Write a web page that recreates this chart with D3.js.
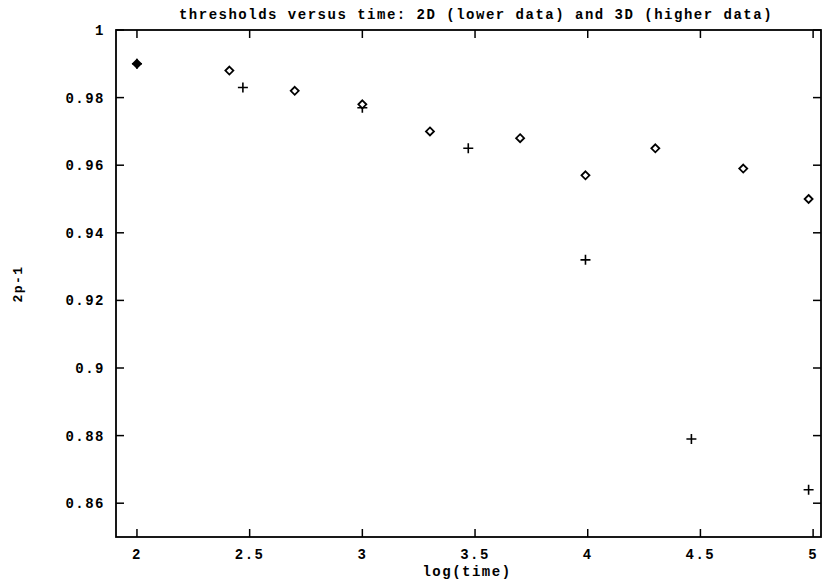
<!DOCTYPE html>
<html>
<head>
<meta charset="utf-8">
<script src="https://cdn.jsdelivr.net/npm/d3@7"></script>
<style>
  body { margin: 0; background: #fff; }
  svg { display: block; }
  .frame { fill: none; stroke: #000; stroke-width: 1.8; }
  .tick-line { stroke: #000; stroke-width: 1.5; }
  text { font-family: "Liberation Mono", "DejaVu Sans Mono", monospace; fill: #000; }
  .mono { font-size: 14px; letter-spacing: 1.5px; font-weight: bold; }
</style>
</head>
<body>
<svg id="chart" width="834" height="584"></svg>
<script>
// 3D data (diamonds, higher) and 2D data (pluses, lower)
var diamondX = [2.0, 2.41, 2.70, 3.0, 3.30, 3.70, 3.99, 4.30, 4.69, 4.98];
var diamondY = [0.990, 0.988, 0.982, 0.978, 0.970, 0.968, 0.957, 0.965, 0.959, 0.950];
var plusX = [2.0, 2.47, 3.0, 3.47, 3.99, 4.46, 4.98];
var plusY = [0.990, 0.983, 0.977, 0.965, 0.932, 0.879, 0.864];

var xTicks = [2, 2.5, 3, 3.5, 4, 4.5, 5];
var yTicks = [0.86, 0.88, 0.9, 0.92, 0.94, 0.96, 0.98, 1];

function drawChart() {
  var svg = d3.select("#chart");
  // plot frame edges (window.top is reserved, so keep these local)
  var plotLeft = 116, plotRight = 821, plotTop = 30, plotBottom = 537;

  var x = d3.scaleLinear().domain([1.907, 5.035]).range([plotLeft, plotRight]);
  var y = d3.scaleLinear().domain([0.85, 1]).range([plotBottom, plotTop]);

  // Title
  svg.append("text").attr("class", "mono")
    .attr("x", 476).attr("y", 19)
    .attr("text-anchor", "middle")
    .text("thresholds versus time: 2D (lower data) and 3D (higher data)");

  // Tick marks pointing inward on all four sides
  var tickLen = 8;
  xTicks.forEach(function(t) {
    svg.append("line").attr("class", "tick-line")
      .attr("x1", x(t)).attr("x2", x(t))
      .attr("y1", plotBottom).attr("y2", plotBottom - tickLen);
    svg.append("line").attr("class", "tick-line")
      .attr("x1", x(t)).attr("x2", x(t))
      .attr("y1", plotTop).attr("y2", plotTop + tickLen);
    svg.append("text").attr("class", "mono")
      .attr("x", x(t)).attr("y", plotBottom + 22)
      .attr("text-anchor", "middle")
      .text(t);
  });

  yTicks.forEach(function(t) {
    svg.append("line").attr("class", "tick-line")
      .attr("x1", plotLeft).attr("x2", plotLeft + tickLen)
      .attr("y1", y(t)).attr("y2", y(t));
    svg.append("line").attr("class", "tick-line")
      .attr("x1", plotRight).attr("x2", plotRight - tickLen)
      .attr("y1", y(t)).attr("y2", y(t));
    svg.append("text").attr("class", "mono")
      .attr("x", plotLeft - 11).attr("y", y(t) + 5)
      .attr("text-anchor", "end")
      .text(t);
  });

  // Frame
  svg.append("rect").attr("class", "frame")
    .attr("x", plotLeft).attr("y", plotTop)
    .attr("width", plotRight - plotLeft).attr("height", plotBottom - plotTop);

  // Axis labels
  svg.append("text").attr("class", "mono")
    .attr("x", 467).attr("y", 576)
    .attr("text-anchor", "middle")
    .text("log(time)");

  svg.append("text").attr("class", "mono")
    .attr("transform", "translate(22,284) rotate(-90)")
    .attr("text-anchor", "middle")
    .style("font-size", "13px")
    .text("2p-1");

  // Pluses (2D)
  var plusData = plusX.map(function(d, i) { return [d, plusY[i]]; });
  svg.append("g").selectAll("path")
    .data(plusData)
    .enter().append("path")
    .attr("d", function(d) {
      var cx = x(d[0]), cy = y(d[1]), r = 5;
      return "M" + (cx - r) + "," + cy + "H" + (cx + r) +
        "M" + cx + "," + (cy - r) + "V" + (cy + r);
    })
    .attr("stroke", "#000")
    .attr("stroke-width", 1.6)
    .attr("fill", "none");

  // Diamonds (3D)
  var diamondData = diamondX.map(function(d, i) { return [d, diamondY[i]]; });
  svg.append("g").selectAll("path")
    .data(diamondData)
    .enter().append("path")
    .attr("d", function(d) {
      var cx = x(d[0]), cy = y(d[1]), r = 4;
      return "M" + cx + "," + (cy - r) + "L" + (cx + r) + "," + cy +
        "L" + cx + "," + (cy + r) + "L" + (cx - r) + "," + cy + "Z";
    })
    .attr("stroke", "#000")
    .attr("stroke-width", 1.8)
    .attr("fill", function(d, i) { return i === 0 ? "#000" : "#fff"; });
}
drawChart();
</script>
</body>
</html>
